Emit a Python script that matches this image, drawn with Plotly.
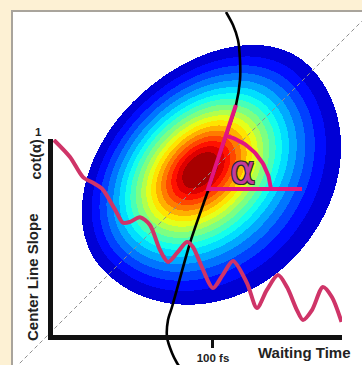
import numpy as np
import plotly.graph_objects as go

# ---------------- data ----------------
# Inset: centre line slope vs waiting time
waiting_time_fs = [0.9, 10.9, 19.0, 25.5, 31.0, 38.9, 43.9, 48.3, 54.5, 60.7, 67.0,
                   72.0, 77.6, 83.8, 87.5, 93.1, 100.0, 106.0, 112.5, 121.2, 127.4, 133.6,
                   140.5, 146.1, 152.3, 156.1, 161.7, 168.5, 174.1, 180.1]
cls_values = [0.995, 0.908, 0.805, 0.775, 0.745, 0.640, 0.572, 0.576, 0.600, 0.560, 0.432,
              0.371, 0.417, 0.473, 0.448, 0.345, 0.238, 0.304, 0.376, 0.263, 0.136, 0.228,
              0.304, 0.243, 0.125, 0.074, 0.125, 0.243, 0.192, 0.064]
x_tick_vals = [100]
x_tick_text = ["100 fs"]
y_tick_vals = [1]
y_tick_text = ["1"]

# 2D spectrum (frequency units of the drawing, diagonal is w_tau = w_t)
outer_center = [203, 211]
core_center = [200, 213]
outer_semi_axes = [150, 140, 125, 99]     # up-right, down-left, down-right, up-left
core_stretch = [0.12, -0.10]              # extra elongation of the inner contours (along, across)
contour_radii = [1.0, 0.90, 0.825, 0.76, 0.70, 0.645, 0.595, 0.55, 0.505, 0.46,
                 0.42, 0.38, 0.34, 0.30, 0.26, 0.22, 0.18, 0.135]
center_line_wt = [226, 233, 238, 240, 240, 236, 222.5, 209, 203, 190, 172, 168, 167, 172, 177, 179]
center_line_wtau = [371, 358, 343, 323, 303, 278, 236.5, 195, 178, 140, 76, 63, 46, 30, 20, 17]
diagonal = [0, 400]
angle_vertex = [208, 194]
angle_arm_h = [302, 194]
angle_arm_s = [236, 278]
arc_radius = [63, 56]

# ---------------- figure ----------------
W, H = 362, 365
ML, MT = 13, 12
PW, PH = W - ML, H - MT

def px2x(px):
    return (px - ML) / PW

def py2y(py):
    return (H - py) / PH

fig = go.Figure()

# blob: nested, morphing ellipses
xs = np.arange(ML, W) + 0.5
ys = 383 - (np.arange(MT, H) + 0.5)
X, Y = np.meshgrid(xs, ys)
ap, am, bp, bm = outer_semi_axes
a_mean, b_mean = 0.5 * (ap + am), 0.5 * (bp + bm)
oc = np.array(outer_center, float)
cc = np.array(core_center, float)

def inside(d):
    cxd = cc[0] + d * (oc[0] - cc[0])
    cyd = cc[1] + d * (oc[1] - cc[1])
    p = ((X - cxd) + (Y - cyd)) / np.sqrt(2)
    q = ((X - cxd) - (Y - cyd)) / np.sqrt(2)
    ma = 1 + core_stretch[0] * (1 - d)
    mb = 1 + core_stretch[1] * (1 - d)
    a_side = np.where(p >= 0, ap, am)
    b_side = np.where(q >= 0, bp, bm)
    a = d * (a_mean + (a_side - a_mean) * d ** 2) * ma
    b = d * (b_mean + (b_side - b_mean) * d ** 2) * mb
    return (p / a) ** 2 + (q / b) ** 2 <= 1

lo = np.full(X.shape, 1e-4)
hi = np.full(X.shape, 1.6)
for _ in range(28):
    mid = 0.5 * (lo + hi)
    ins = inside(mid)
    hi = np.where(ins, mid, hi)
    lo = np.where(ins, lo, mid)
D = hi
n_levels = len(contour_radii)
thr = np.array(contour_radii)
band = (D[..., None] <= thr[None, None, :]).sum(axis=2) - 1.0
band = np.where(D > contour_radii[0], np.nan, band + 0.5)

def jet(t):
    r = np.clip(1.5 - abs(4 * t - 3), 0, 1)
    g = np.clip(1.5 - abs(4 * t - 2), 0, 1)
    b = np.clip(1.5 - abs(4 * t - 1), 0, 1)
    return "rgb(%d,%d,%d)" % (round(r * 255), round(g * 255), round(b * 255))

cs = []
for i in range(n_levels):
    t = 0.085 + 0.875 * i / (n_levels - 1)
    c = jet(t)
    cs.append([i / n_levels, c])
    cs.append([(i + 1) / n_levels, c])

fig.add_trace(go.Heatmap(x=xs, y=ys, z=band, colorscale=cs, zmin=0, zmax=n_levels,
                         showscale=False, hoverinfo="skip", zsmooth=False))

# diagonal
fig.add_trace(go.Scatter(x=diagonal, y=diagonal, mode="lines",
                         line=dict(color="#8f8f8f", width=1, dash="4px,3px"), hoverinfo="skip"))

# centre line (black)
fig.add_trace(go.Scatter(x=center_line_wt, y=center_line_wtau, mode="lines",
                         line=dict(color="#000000", width=2.6, shape="spline", smoothing=0.8),
                         hoverinfo="skip"))

# angle
vx, vy = angle_vertex
fig.add_trace(go.Scatter(x=[angle_arm_h[0], vx, angle_arm_s[0]], y=[angle_arm_h[1], vy, angle_arm_s[1]],
                         mode="lines", line=dict(color="#e3157f", width=4), hoverinfo="skip"))
theta_end = np.arctan2(angle_arm_s[1] - vy, angle_arm_s[0] - vx)
th = np.linspace(0, theta_end, 40)
rr = arc_radius[0] + (arc_radius[1] - arc_radius[0]) * th / theta_end
fig.add_trace(go.Scatter(x=vx + rr * np.cos(th), y=vy + rr * np.sin(th), mode="lines",
                         line=dict(color="#e3157f", width=4), hoverinfo="skip"))

# inset curve
fig.add_trace(go.Scatter(x=waiting_time_fs, y=cls_values, xaxis="x2", yaxis="y2", mode="lines",
                         line=dict(color="#cf3468", width=4, shape="spline", smoothing=0.8),
                         cliponaxis=False, hoverinfo="skip"))

FONT = "Liberation Sans, Arial, sans-serif"
fig.update_layout(
    width=W, height=H, margin=dict(l=ML, r=0, t=MT, b=0),
    paper_bgcolor="#fdf1d4", plot_bgcolor="rgba(0,0,0,0)", showlegend=False,
    xaxis=dict(range=[ML, W], showgrid=False, zeroline=False, showticklabels=False,
               side="top", showline=True, linecolor="#a9a49c", linewidth=2, fixedrange=True),
    yaxis=dict(range=[383 - H, 383 - MT], showgrid=False, zeroline=False, showticklabels=False,
               showline=True, linecolor="#a9a49c", linewidth=2, fixedrange=True),
    xaxis2=dict(domain=[px2x(52.5), px2x(342)], range=[0, 180.4], anchor="y2",
                showgrid=False, zeroline=False, showline=True, linecolor="#111111", linewidth=4.5,
                tickvals=x_tick_vals, ticktext=x_tick_text, ticks="outside", ticklen=9,
                tickwidth=3, tickcolor="#111111", fixedrange=True,
                tickfont=dict(family=FONT, size=11.5, color="#222222", weight=700)),
    yaxis2=dict(domain=[py2y(334.5), py2y(139)], range=[0, 1], anchor="x2",
                showgrid=False, zeroline=False, showline=True, linecolor="#111111", linewidth=4.5,
                tickvals=y_tick_vals, ticktext=y_tick_text, ticks="inside", ticklen=4,
                tickwidth=3, tickcolor="#111111", showticklabels=False, fixedrange=True),
)

# white drawing panel
fig.add_shape(type="rect", xref="paper", yref="paper", x0=0, x1=1, y0=0, y1=1,
              fillcolor="#ffffff", line_width=0, layer="below")

anns = [
    dict(text="Center Line Slope", x=px2x(32.5), y=py2y(277.5), textangle=-90, size=15),
    dict(text="cot(α)", x=px2x(35), y=py2y(159.5), textangle=-90, size=14.5),
    dict(text=y_tick_text[0], x=px2x(38.5), y=py2y(132), textangle=0, size=11.5),
    dict(text="Waiting Time", x=px2x(304.5), y=py2y(352.5), textangle=0, size=15),
]
for a in anns:
    fig.add_annotation(text=a["text"], x=a["x"], y=a["y"], xref="paper", yref="paper",
                       textangle=a["textangle"], showarrow=False, xanchor="center", yanchor="middle",
                       font=dict(family=FONT, size=a["size"], color="#222222", weight=700))

fig.add_annotation(text="α", x=243, y=214, xref="x", yref="y", showarrow=False,
                   xanchor="center", yanchor="middle",
                   font=dict(family="DejaVu Sans", size=39, color="#c43a9c",
                             shadow="-1px -1px 0 #2a2a2a, 1px -1px 0 #2a2a2a, -1px 1px 0 #2a2a2a, 1px 1px 0 #2a2a2a"))

fig.write_html("out.html", post_script="document.body.style.margin='0';",
               config={"displayModeBar": False})
